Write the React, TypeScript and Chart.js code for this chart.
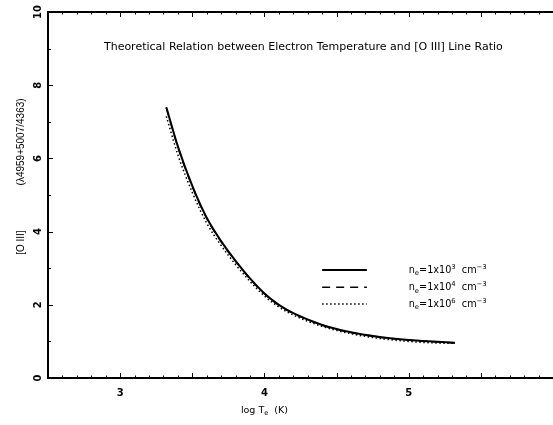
import React, { useEffect, useRef } from "react";
import { Chart, registerables } from "chart.js";

Chart.register(...registerables);

// ---- data ----
const logTe = [3.32, 3.4, 3.5, 3.6, 3.7, 3.8, 3.9, 4.0, 4.1, 4.2, 4.4, 4.6, 4.8, 5.0, 5.2, 5.32];
const ratioNe1e3 = [7.4, 6.33, 5.25, 4.38, 3.74, 3.2, 2.72, 2.31, 2.0, 1.77, 1.45, 1.25, 1.12, 1.04, 0.99, 0.96];
const ratioNe1e4 = [7.38, 6.31, 5.23, 4.36, 3.72, 3.19, 2.71, 2.3, 1.99, 1.765, 1.445, 1.245, 1.115, 1.035, 0.985, 0.957];
const ratioNe1e6 = [7.15, 6.1, 5.07, 4.23, 3.62, 3.1, 2.64, 2.24, 1.94, 1.72, 1.41, 1.21, 1.08, 1.0, 0.955, 0.945];

const xRange = [2.5, 6.0];
const yRange = [0, 10];
const xTickLabels = [3, 4, 5];
const yTickLabels = [0, 2, 4, 6, 8, 10];
const legendExponents = ["3", "4", "6"];

const titleText = "Theoretical Relation between Electron Temperature and [O III] Line Ratio";
const yTitleA = "[O III]";
const yTitleB = "(\u03bb4959+5007/4363)";

const FONT = '"DejaVu Sans", "Liberation Sans", sans-serif';
const FONT2 = '"Liberation Sans", Arial, sans-serif';

type Part = { t: string; sub?: boolean; sup?: boolean };

function richWidth(ctx: CanvasRenderingContext2D, parts: Part[], size: number) {
  let w = 0;
  for (const p of parts) {
    const s = p.sub || p.sup ? size * 0.7 : size;
    ctx.font = `${s}px ${FONT}`;
    w += ctx.measureText(p.t).width;
  }
  return w;
}

function drawRich(ctx: CanvasRenderingContext2D, x: number, y: number, parts: Part[], size: number) {
  let cx = x;
  ctx.textBaseline = "alphabetic";
  ctx.textAlign = "left";
  for (const p of parts) {
    const s = p.sub || p.sup ? size * 0.7 : size;
    ctx.font = `${s}px ${FONT}`;
    const dy = p.sub ? size * 0.25 : p.sup ? -size * 0.45 : 0;
    ctx.fillText(p.t, cx, y + dy);
    cx += ctx.measureText(p.t).width;
  }
}

const decorPlugin = {
  id: "decor",
  afterDraw(chart: any) {
    const { ctx, chartArea: a } = chart;
    const xs = chart.scales.x;
    const ys = chart.scales.y;
    ctx.save();
    ctx.strokeStyle = "#000";
    ctx.fillStyle = "#000";

    // frame (top, left, bottom)
    ctx.lineWidth = 2;
    ctx.beginPath();
    ctx.moveTo(a.right, a.top);
    ctx.lineTo(a.left, a.top);
    ctx.lineTo(a.left, a.bottom);
    ctx.lineTo(a.right, a.bottom);
    ctx.stroke();

    // x ticks (inward, top and bottom)
    ctx.lineWidth = 1;
    for (let i = 25; i <= 60; i++) {
      const px = Math.round(xs.getPixelForValue(i / 10)) + 0.5;
      const len = i % 5 === 0 ? 5 : 2.5;
      ctx.beginPath();
      ctx.moveTo(px, a.bottom);
      ctx.lineTo(px, a.bottom - len);
      ctx.moveTo(px, a.top);
      ctx.lineTo(px, a.top + len);
      ctx.stroke();
    }
    // y ticks
    for (let v = 0; v <= 10; v++) {
      const py = Math.round(ys.getPixelForValue(v)) + 0.5;
      const len = v % 2 === 0 ? 5 : 3;
      ctx.beginPath();
      ctx.moveTo(a.left, py);
      ctx.lineTo(a.left + len, py);
      ctx.stroke();
    }

    // x tick labels
    ctx.font = `bold 10px ${FONT}`;
    ctx.textAlign = "center";
    ctx.textBaseline = "middle";
    for (const v of xTickLabels) {
      ctx.fillText(String(v), xs.getPixelForValue(v), a.bottom + 15);
    }
    // y tick labels (rotated)
    for (const v of yTickLabels) {
      ctx.save();
      ctx.translate(a.left - 10, ys.getPixelForValue(v));
      ctx.rotate(-Math.PI / 2);
      ctx.fillText(String(v), 0, 0);
      ctx.restore();
    }

    // title inside the plot
    ctx.font = `11px ${FONT}`;
    ctx.textAlign = "center";
    ctx.textBaseline = "middle";
    ctx.fillText(titleText, xs.getPixelForValue(4.27), ys.getPixelForValue(9.05));

    // y-axis title
    ctx.font = `10px ${FONT2}`;
    ctx.save();
    ctx.translate(a.left - 27, ys.getPixelForValue(3.7));
    ctx.rotate(-Math.PI / 2);
    ctx.fillText(yTitleA, 0, 0);
    ctx.restore();
    ctx.save();
    ctx.translate(a.left - 27, ys.getPixelForValue(6.45));
    ctx.rotate(-Math.PI / 2);
    ctx.fillText(yTitleB, 0, 0);
    ctx.restore();

    // x-axis title
    const xt: Part[] = [{ t: "log T" }, { t: "e", sub: true }, { t: "  (K)" }];
    const w = richWidth(ctx, xt, 9.5);
    drawRich(ctx, xs.getPixelForValue(4.0) - w / 2, a.bottom + 35, xt, 9.5);

    // legend
    const ds = chart.data.datasets;
    const legY = [2.95, 2.48, 2.02];
    for (let i = 0; i < ds.length; i++) {
      const py = ys.getPixelForValue(legY[i]);
      ctx.save();
      ctx.lineWidth = ds[i].borderWidth;
      ctx.setLineDash(ds[i].borderDash || []);
      ctx.beginPath();
      ctx.moveTo(xs.getPixelForValue(4.4), py);
      ctx.lineTo(xs.getPixelForValue(4.71), py);
      ctx.stroke();
      ctx.restore();
      const parts: Part[] = [
        { t: "n" },
        { t: "e", sub: true },
        { t: "=1x10" },
        { t: legendExponents[i], sup: true },
        { t: "  cm" },
        { t: "\u22123", sup: true },
      ];
      drawRich(ctx, xs.getPixelForValue(5.0), py + 3, parts, 9.7);
    }
    ctx.restore();
  },
};

export default function App() {
  const ref = useRef<HTMLCanvasElement | null>(null);
  useEffect(() => {
    document.body.style.margin = "0";
    const canvas = ref.current!;
    const chart = new Chart(canvas, {
      type: "line",
      data: {
        datasets: [
          {
            label: `ne=1x10^${legendExponents[0]}`,
            data: logTe.map((x, i) => ({ x, y: ratioNe1e3[i] })),
            borderColor: "#000",
            borderWidth: 2,
            pointRadius: 0,
            cubicInterpolationMode: "monotone",
            fill: false,
          },
          {
            label: `ne=1x10^${legendExponents[1]}`,
            data: logTe.map((x, i) => ({ x, y: ratioNe1e4[i] })),
            borderColor: "#000",
            borderWidth: 1.5,
            borderDash: [8, 6],
            pointRadius: 0,
            cubicInterpolationMode: "monotone",
            fill: false,
          },
          {
            label: `ne=1x10^${legendExponents[2]}`,
            data: logTe.map((x, i) => ({ x, y: ratioNe1e6[i] })),
            borderColor: "#000",
            borderWidth: 1.5,
            borderDash: [1.5, 2.5],
            pointRadius: 0,
            cubicInterpolationMode: "monotone",
            fill: false,
          },
        ],
      } as any,
      options: {
        animation: false,
        responsive: false,
        layout: { padding: { left: 48, top: 12, right: 0, bottom: 47 } },
        scales: {
          x: { type: "linear", min: xRange[0], max: xRange[1], display: false },
          y: { type: "linear", min: yRange[0], max: yRange[1], display: false },
        },
        plugins: { legend: { display: false }, tooltip: { enabled: false } },
      },
      plugins: [decorPlugin],
    });
    return () => chart.destroy();
  }, []);
  return (
    <div style={{ width: 553, height: 425, background: "#fff" }}>
      <canvas ref={ref} width={553} height={425} style={{ display: "block" }} />
    </div>
  );
}
